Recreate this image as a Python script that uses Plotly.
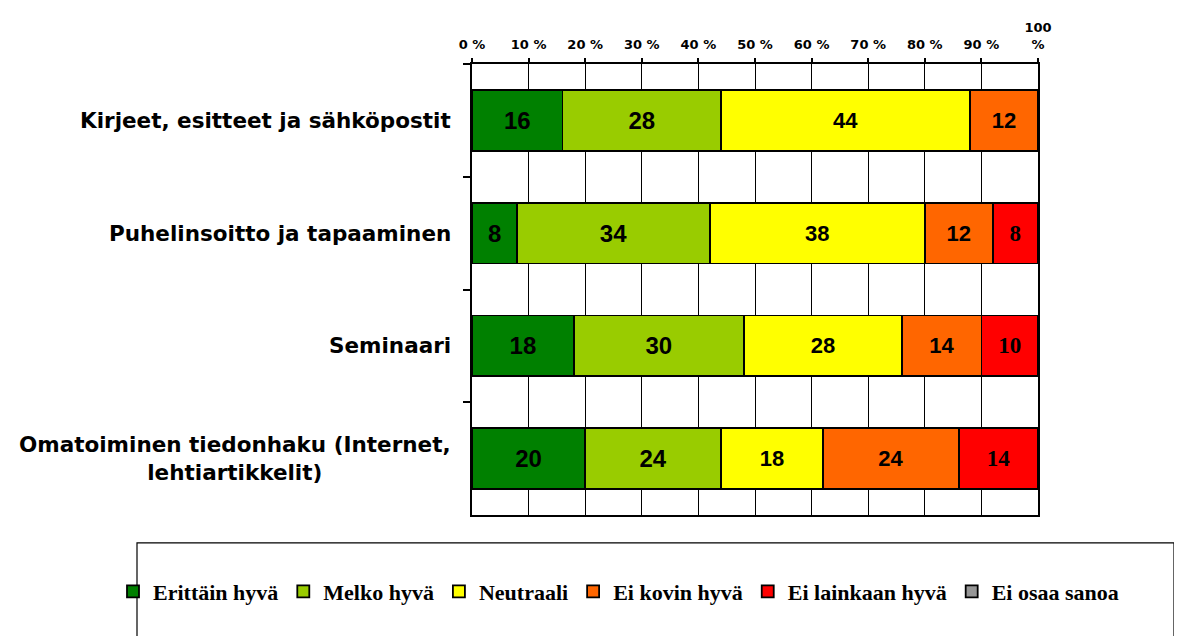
import plotly.graph_objects as go

categories = [
    "Kirjeet, esitteet ja sähköpostit",
    "Puhelinsoitto ja tapaaminen",
    "Seminaari",
    "Omatoiminen tiedonhaku (Internet,<br>lehtiartikkelit)",
]
series_names = ["Erittäin hyvä", "Melko hyvä", "Neutraali", "Ei kovin hyvä", "Ei lainkaan hyvä", "Ei osaa sanoa"]
erittain_hyva = [16, 8, 18, 20]
melko_hyva = [28, 34, 30, 24]
neutraali = [44, 38, 28, 18]
ei_kovin_hyva = [12, 12, 14, 24]
ei_lainkaan_hyva = [0, 8, 10, 14]
ei_osaa_sanoa = [0, 0, 0, 0]
tick_values = [0, 10, 20, 30, 40, 50, 60, 70, 80, 90, 100]
tick_labels = ["0 %", "10 %", "20 %", "30 %", "40 %", "50 %", "60 %", "70 %", "80 %", "90 %", "100<br>%"]

series_values = [erittain_hyva, melko_hyva, neutraali, ei_kovin_hyva, ei_lainkaan_hyva, ei_osaa_sanoa]
colors = ["#008000", "#99CC00", "#FFFF00", "#FF6600", "#FF0000", "#969696"]
text_fonts = [
    dict(family="Liberation Sans, Arial", size=24, color="black", weight="bold"),
    dict(family="Liberation Sans, Arial", size=24, color="black", weight="bold"),
    dict(family="Liberation Sans, Arial", size=22, color="black", weight="bold"),
    dict(family="Liberation Sans, Arial", size=22, color="black", weight="bold"),
    dict(family="Liberation Serif, Times New Roman", size=23, color="black", weight="bold"),
    dict(family="Liberation Sans, Arial", size=20, color="black", weight="bold"),
]

fig = go.Figure()
for name, vals, col, tf in zip(series_names, series_values, colors, text_fonts):
    fig.add_trace(go.Bar(
        name=name,
        y=categories,
        x=vals,
        orientation="h",
        marker=dict(color=col, line=dict(color="black", width=1.8)),
        text=[str(v) if v else "" for v in vals],
        textposition="inside",
        insidetextanchor="middle",
        textangle=0,
        textfont=tf,
        hoverinfo="skip",
    ))

for cat in categories:
    fig.add_annotation(
        x=0, xref="paper", xshift=-19, xanchor="right",
        y=cat, yref="y", yanchor="middle",
        text=cat, showarrow=False, align="center",
        font=dict(family="DejaVu Sans", size=21.5, color="black", weight="bold"),
    )

fig.add_shape(
    type="rect", xref="paper", yref="paper",
    x0=(137 - 472) / 566, x1=(1174 - 472) / 566,
    y0=(515 - 543) / 453, y1=(515 - 660) / 453,
    line=dict(color="black", width=1.2), fillcolor="rgba(0,0,0,0)",
)

fig.update_layout(
    width=1174, height=628,
    margin=dict(l=464, r=144, t=54, b=121),
    barmode="stack",
    bargap=0.46,
    paper_bgcolor="white",
    plot_bgcolor="white",
    showlegend=True,
    legend=dict(
        orientation="h", traceorder="normal",
        x=(113 - 472) / 566, xanchor="left",
        y=(515 - 592) / 453, yanchor="middle",
        font=dict(family="Liberation Serif, Times New Roman", size=22, color="black", weight="bold"),
        bgcolor="rgba(0,0,0,0)", borderwidth=0,
    ),
    xaxis=dict(
        side="top", range=[0, 100], tickvals=tick_values, ticktext=tick_labels,
        showgrid=True, gridcolor="black", gridwidth=1,
        showline=True, linecolor="black", linewidth=2, mirror=True,
        ticks="outside", ticklen=4, tickcolor="black", tickwidth=1.5,
        ticklabelstandoff=4,
        zeroline=False,
        tickfont=dict(family="DejaVu Sans", size=13, color="black", weight="bold"),
    ),
    yaxis=dict(
        type="category", categoryorder="array", categoryarray=categories,
        autorange="reversed",
        showgrid=False, showline=True, linecolor="black", linewidth=2, mirror=True,
        ticks="outside", tickson="boundaries", ticklen=7, tickcolor="black", tickwidth=1.5,
        showticklabels=False,
    ),
)

fig.write_html("out.html")
